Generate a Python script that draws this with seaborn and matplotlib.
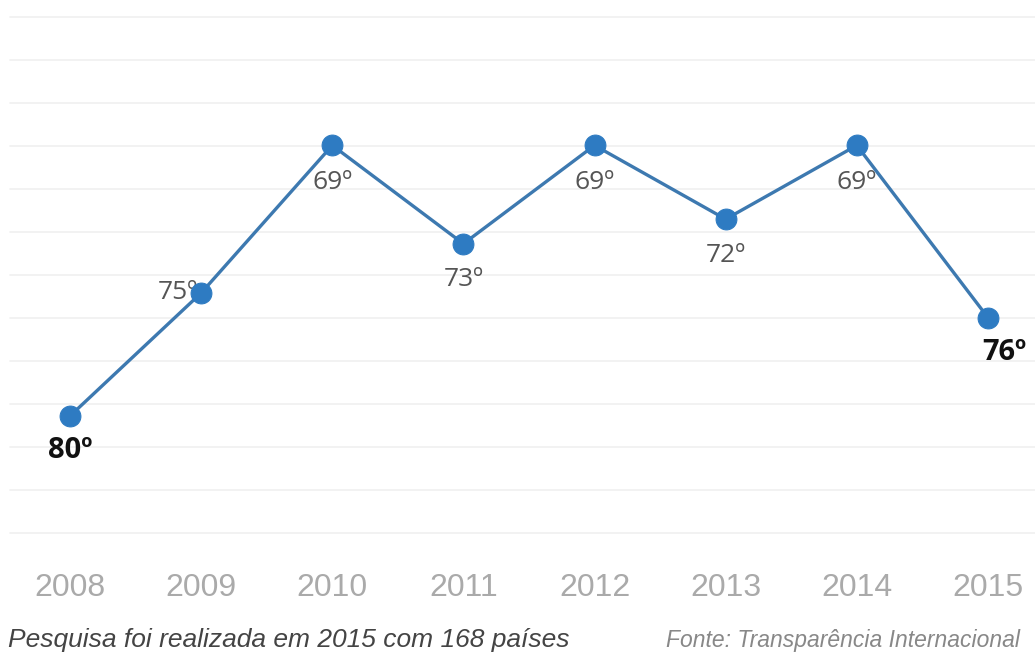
import matplotlib
matplotlib.use("Agg")
import matplotlib.pyplot as plt
import seaborn as sns
import numpy as np
import pandas as pd

anos = [2008, 2009, 2010, 2011, 2012, 2013, 2014, 2015]
posicao = [80, 75, 69, 73, 69, 72, 69, 76]
rotulos = ["80º", "75º", "69º", "73º", "69º", "72º", "69º", "76º"]

df = pd.DataFrame({"ano": anos, "posicao": posicao})

sns.set_style("white")
plt.rcParams["font.family"] = ["Liberation Sans", "DejaVu Sans"]

fig = plt.figure(figsize=(10.35, 6.58), dpi=100)
ax = fig.add_axes([0, 0, 1, 1])

# light horizontal guides
for y in np.arange(63.78, 85.5, 1.748):
    ax.axhline(y, xmin=0.01, xmax=1, color="#f0f0f0", lw=1.2, zorder=0)

sns.lineplot(data=df, x="ano", y="posicao", ax=ax, color="#3d79b0", lw=2.4,
             marker="o", markersize=15, markerfacecolor="#2e7bc2",
             markeredgecolor="#2e7bc2", zorder=3)

ax.set_xlim(2007.466, 2015.359)
ax.set_ylim(89.84, 63.09)

# label offsets (points)
offs = [(0, -25, True), (-17, 0, False), (0, -27, False), (0, -26, False),
        (0, -27, False), (0, -26, False), (0, -27, False), (12, -25, True)]
for x, y, t, (dx, dy, destaque) in zip(anos, posicao, rotulos, offs):
    if destaque:
        ax.annotate(t, (x, y), xytext=(dx, dy), textcoords="offset points",
                    ha="center", va="center", fontsize=21, fontweight="bold",
                    color="#111111", family=["Open Sans", "DejaVu Sans"])
    else:
        ax.annotate(t, (x, y), xytext=(dx, dy), textcoords="offset points",
                    ha="center", va="center", fontsize=19, color="#555555",
                    family=["Open Sans", "DejaVu Sans"], zorder=2)

# year labels
for x in anos:
    ax.text(x, 87.0, str(x), ha="center", va="center", fontsize=23,
            color="#aaaaaa")

ax.text(0.008, 0.027, "Pesquisa foi realizada em 2015 com 168 países",
        transform=ax.transAxes, ha="left", va="center", fontsize=19,
        style="italic", color="#444444")
ax.text(0.643, 0.027, "Fonte: Transparência Internacional",
        transform=ax.transAxes, ha="left", va="center", fontsize=16.5,
        style="italic", color="#888888")

ax.set_axis_off()
fig.savefig("out.png", dpi=100)
